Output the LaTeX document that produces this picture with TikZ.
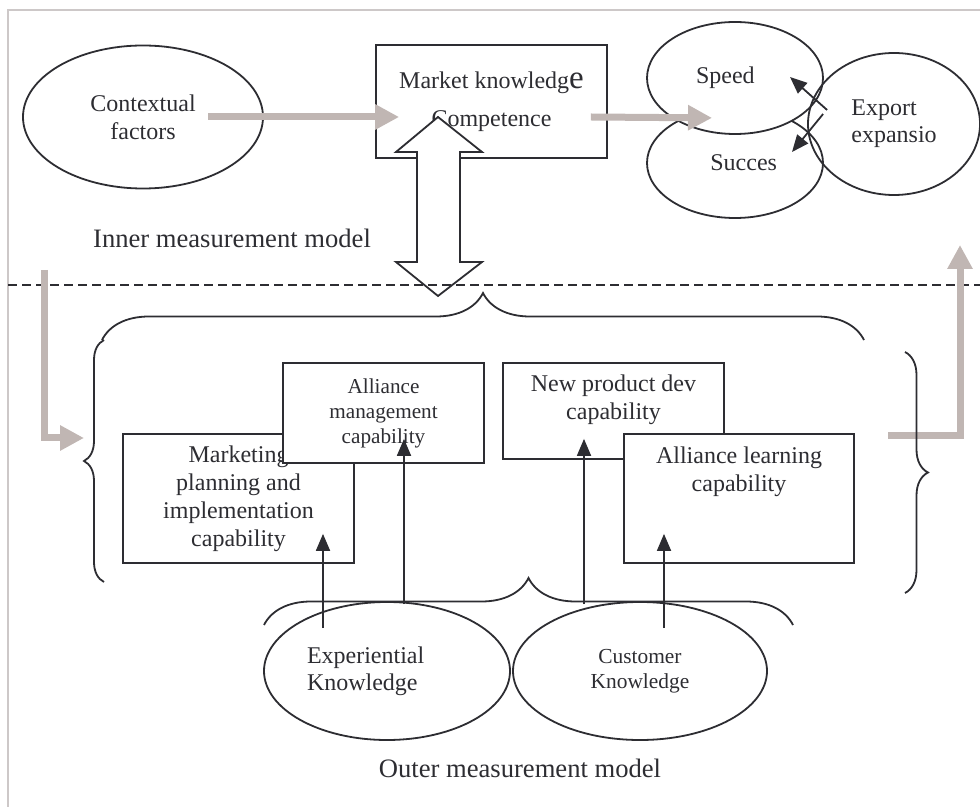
\documentclass[tikz,border=0pt]{standalone}
\usepackage{fontspec}
\setmainfont{Liberation Serif}
\usetikzlibrary{arrows.meta, shapes.geometric, decorations.pathreplacing}

\definecolor{ink}{RGB}{45,45,50}
\definecolor{fatgray}{RGB}{192,182,179}
\definecolor{framegray}{RGB}{205,200,200}

\begin{document}
\begin{tikzpicture}[
x=0.5pt, y=-0.5pt,
every node/.style={text=ink},
box/.style={draw=ink, line width=0.9pt, fill=white, rectangle, align=center, inner sep=1pt, font=\fontsize{12}{14}\selectfont},
oval/.style={draw=ink, line width=0.9pt, ellipse, align=center, inner sep=0pt, font=\fontsize{12}{14}\selectfont},
arrow/.style={-{Triangle[width=7pt,length=8.5pt]}, draw=ink, line width=0.9pt},
fat/.style={-{Triangle[width=12pt,length=12pt]}, draw=fatgray, line width=3.5pt},
brc/.style={decorate, decoration={brace, amplitude=#1}, draw=ink, line width=0.9pt},
lbl/.style={font=\fontsize{13.3}{16}\selectfont}
]
\useasboundingbox (0,0) rectangle (980,807);
\draw[framegray, line width=0.8pt] (8,807) -- (8,10) -- (980,10);

% inner model
\node[oval, minimum width=120pt, minimum height=71.5pt] (ctx) at (143,117) {Contextual\\factors};
\node[box, minimum width=115.5pt, minimum height=56.5pt, font=\fontsize{12}{19}\selectfont] (mkc) at (491.5,101.5)
{Market knowledg{\fontsize{16.5}{19}\selectfont e}\\Competence};
\node[oval, minimum width=88pt, minimum height=55pt, text width=42pt, align=right] (succ) at (735,163) {Succes};
\node[oval, fill=white, minimum width=88pt, minimum height=56pt, text width=39pt, align=left] (speed) at (735,78) {Speed};
\node[oval, minimum width=86pt, minimum height=71pt, font=\fontsize{12}{13.5}\selectfont, align=left] (export) at (894,124) {Export\\expansio};

\draw[fat] ([xshift=32.5pt]ctx.center) -- ([xshift=12pt,yshift=-7.75pt]mkc.west);
\draw[fat] ([xshift=-8.5pt,yshift=-7.75pt]mkc.east) -- ([xshift=-11.5pt,yshift=8.5pt]speed.south);
\draw[arrow] ([xshift=10pt,yshift=7pt]export.west) -- ([xshift=27.5pt,yshift=0.5pt]speed.center);
\draw[arrow] ([xshift=8pt,yshift=5pt]export.west) -- ([xshift=28.5pt,yshift=5.5pt]succ.center);

\node[lbl] (inner) at (232,238) {Inner measurement model};

% link between the two models
\draw[draw=ink, fill=white, line width=0.9pt] (438,117) -- (482,152) -- (460,152) -- (460,262) -- (482,262)
  -- (438,296) -- (396,262) -- (417,262) -- (417,152) -- (396,152) -- cycle;

\draw[ink, line width=0.7pt, dash pattern=on 4.5pt off 2.5pt] (8,285) -- (980,285);

% outer model
\coordinate (inS) at (44,270);
\coordinate (inE) at (84,438);
\coordinate (outS) at (888,436);
\coordinate (outE) at (960,245);
\draw[fat] (inS) |- (inE);
\draw[fat] (outS) -| (outE);

\draw[brc=23.5pt] (102,340) -- (864,340);
\draw[brc=10pt] (104,582) -- (104,340);
\draw[brc=11.5pt] (905,352) -- (905,593);
\draw[brc=23.5pt] (264,625) -- (793,625);

\node[box, minimum width=115.5pt, minimum height=64.5pt] (mpc) at (238.5,498.5)
{Marketing\\planning and\\implementation\\capability};
\node[box, minimum width=100.5pt, minimum height=50pt, font=\fontsize{10.6}{12.5}\selectfont] (amc) at (383.5,413)
{Alliance\\management\\capability};
\node[box, minimum width=110.5pt, minimum height=48pt] (npd) at (613.5,411) {New product dev\\capability\\\mbox{}};
\node[box, minimum width=115pt, minimum height=64.5pt] (alc) at (739,498.5) {Alliance learning\\capability\\[15.5pt]\mbox{}};

\node[oval, minimum width=123pt, minimum height=69pt, text width=80pt, align=left, font=\fontsize{12}{13.5}\selectfont] (expk) at (387,671)
{Experiential\\Knowledge};
\node[oval, minimum width=127pt, minimum height=69pt, font=\fontsize{10.7}{12.5}\selectfont] (cusk) at (640,671)
{Customer\\Knowledge};

\draw[arrow] ([xshift=-32pt,yshift=-13.5pt]expk.north) -- ([xshift=42.25pt,yshift=15pt]mpc.south);
\draw[arrow] ([xshift=8.5pt,yshift=-1.5pt]expk.north) -- ([xshift=10.25pt,yshift=12.5pt]amc.south);
\draw[arrow] ([xshift=-28pt,yshift=-1.5pt]cusk.north) -- ([xshift=-14.75pt,yshift=10.5pt]npd.south);
\draw[arrow] ([xshift=12pt,yshift=-13.5pt]cusk.north) -- ([xshift=-37.5pt,yshift=15pt]alc.south);

\node[lbl] (outer) at (520,768) {Outer measurement model};

\end{tikzpicture}
\end{document}
